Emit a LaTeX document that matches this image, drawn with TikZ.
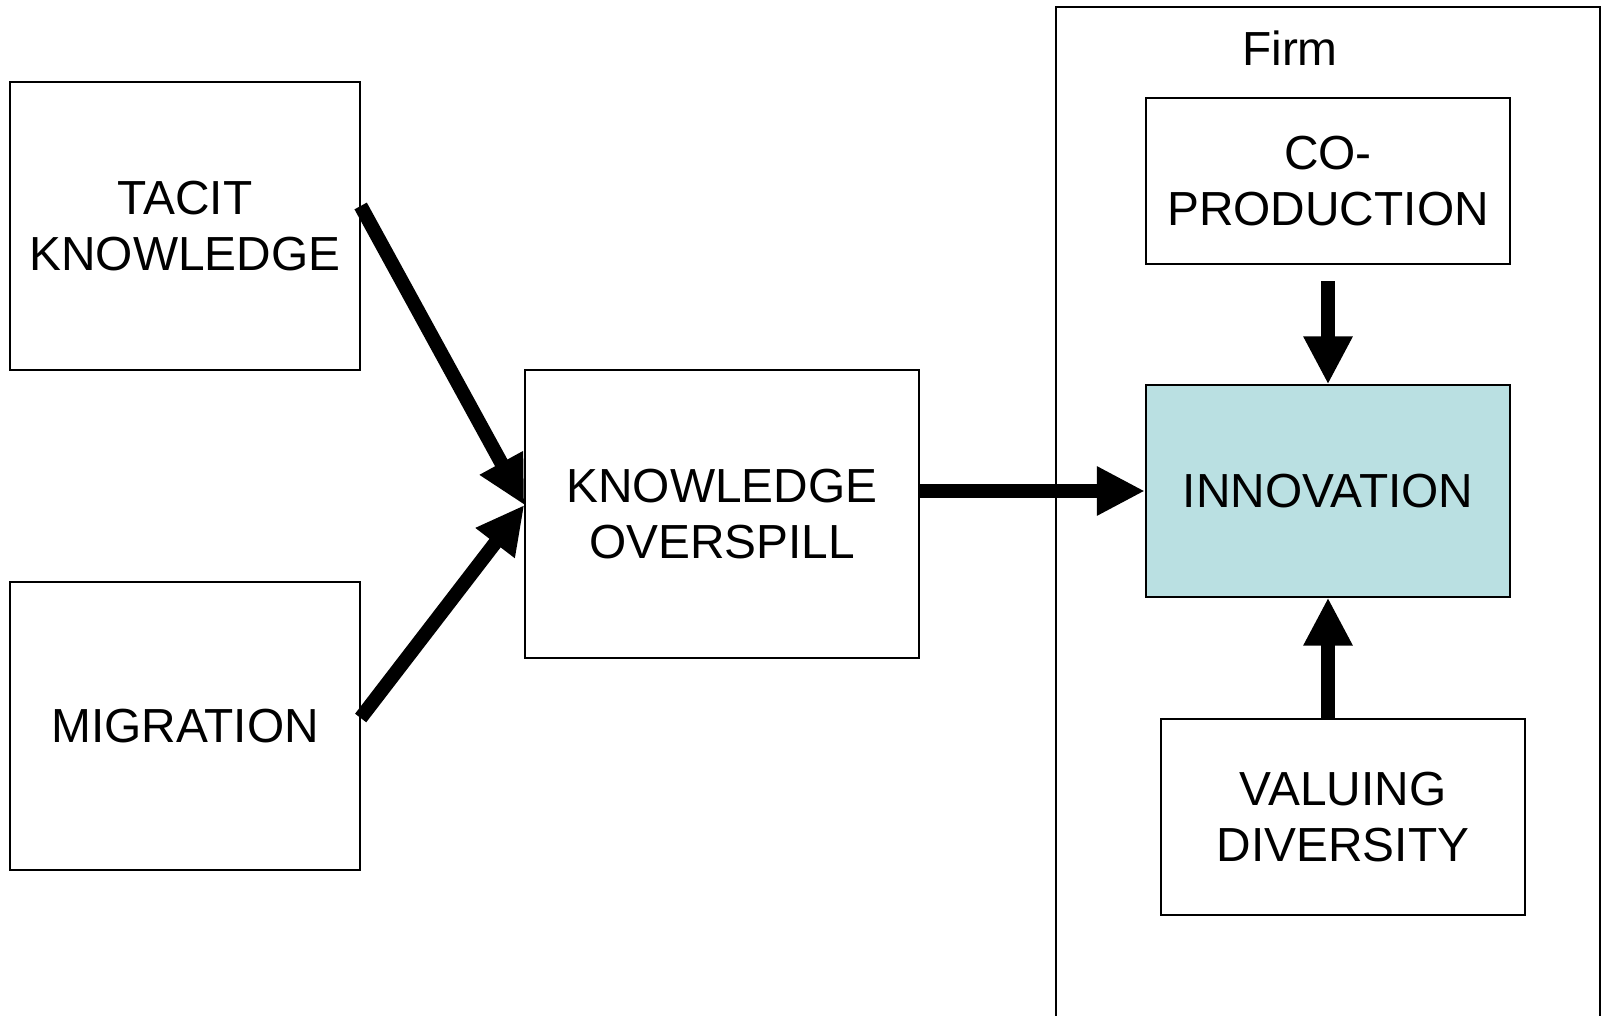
\documentclass[tikz,border=0pt]{standalone}
\usepackage{fontspec}
\setmainfont{Liberation Sans}
\usetikzlibrary{calc,shapes,positioning}
\usetikzlibrary{arrows,arrows.meta}
\definecolor{innocyan}{RGB}{186,224,226}

\begin{document}
\begin{tikzpicture}[x=0.01cm, y=-0.01cm, font=\fontsize{13.6pt}{15.9pt}\selectfont]
  \tikzstyle{bnode} = [draw=black, line width=0.6pt, rectangle, inner sep=0pt, align=center]
  \tikzstyle{barrow} = [line width=4pt, -{Triangle[length=0.48cm, width=0.46cm]}]
  \useasboundingbox (0,0) rectangle (1604,1016);

  % firm frame, open at the bottom
  \draw[line width=0.6pt] (1056,1016) -- (1056,7) -- (1600,7) -- (1600,1016);
  \node (firm) at (1290,48) {Firm};

  \node[bnode, minimum width=3.49cm, minimum height=2.87cm] (tacit) at (185,226) {TACIT\\KNOWLEDGE};
  \node[bnode, minimum width=3.49cm, minimum height=2.87cm] (mig) at (185,726) {MIGRATION};
  \node[bnode, minimum width=3.93cm, minimum height=2.87cm] (ko) at (722,514) {KNOWLEDGE\\OVERSPILL};
  \node[bnode, minimum width=3.64cm, minimum height=1.66cm] (copro) at (1328,181) {CO-\\PRODUCTION};
  \node[bnode, fill=innocyan, minimum width=3.64cm, minimum height=2.11cm] (inn) at (1328,491) {INNOVATION};
  \node[bnode, minimum width=3.64cm, minimum height=1.96cm] (val) at (1343,817) {VALUING\\DIVERSITY};

  \coordinate (meet) at ([yshift=0.09cm]ko.west);
  \draw[barrow] ([yshift=0.2cm]tacit.east) -- (meet);
  \draw[barrow] ([yshift=0.08cm]mig.east) -- (meet);
  \draw[barrow] (ko.east |- inn.west) -- (inn.west);
  \draw[barrow, shorten <=0.16cm] (copro.south) -- (inn.north);
  \draw[barrow] (inn.south |- val.north) -- (inn.south);
\end{tikzpicture}
\end{document}
